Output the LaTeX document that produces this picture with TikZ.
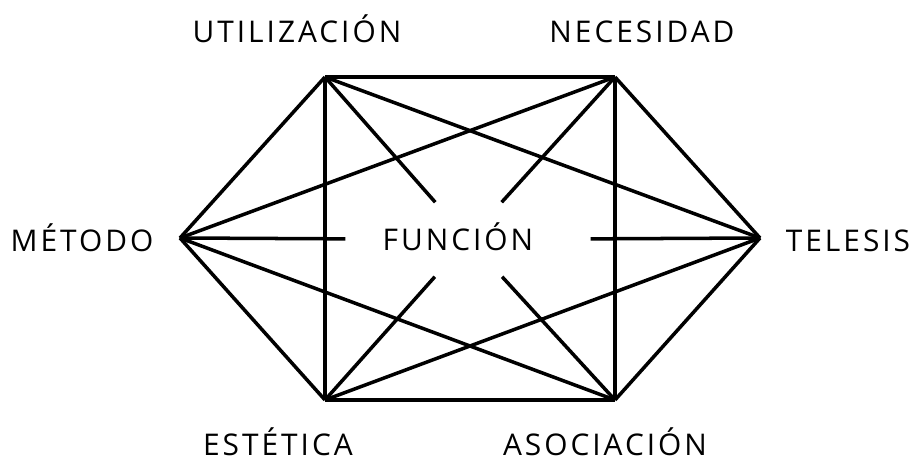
\documentclass[tikz,border=0pt]{standalone}
\usepackage{fontspec}
\setmainfont[LetterSpace=10]{Open Sans}
\usetikzlibrary{positioning}

\begin{document}
\begin{tikzpicture}[x=0.02cm, y=-0.02cm, line width=2pt,
		word/.style = {anchor=base, inner sep=0pt,
			font=\fontsize{17}{20}\selectfont},
		hub/.style = {rectangle, fill=white, inner sep=0pt,
			minimum width=4.84cm, minimum height=1.42cm,
			text height=12pt, text depth=0pt,
			font=\fontsize{17}{20}\selectfont}]
		
		\useasboundingbox (0,0) rectangle (914,462);
		
		% Corners of the hexagon
		\coordinate (uti) at (325,77);
		\coordinate (nec) at (615,77);
		\coordinate (met) at (180,238);
		\coordinate (tel) at (760,238);
		\coordinate (est) at (325,400);
		\coordinate (aso) at (615,400);
		
		% Labels
		\node[word] (utiL) at (297,43) {UTILIZACIÓN};
		\node[word] (necL) at (642,43) {NECESIDAD};
		\node[word] (metL) at (82,252) {MÉTODO};
		\node[word] (telL) at (848,252) {TELESIS};
		\node[word] (estL) at (278,456) {ESTÉTICA};
		\node[word] (asoL) at (605,456) {ASOCIACIÓN};
		
		% Centre
		\node[hub] (fun) at (468,239.5) {FUNCIÓN\hspace*{0.4cm}};
		
		% Sides and short diagonals
		\foreach \a/\b in {uti/nec, nec/tel, tel/aso, aso/est, est/met, met/uti,
			uti/est, nec/aso, met/nec, met/aso, uti/tel, est/tel}
			\draw (\a) -- (\b);
		
		% Spokes to the centre
		\foreach \a in {uti, nec, met, tel, est, aso}
			\draw (\a) -- (fun);
	\end{tikzpicture}
\end{document}
